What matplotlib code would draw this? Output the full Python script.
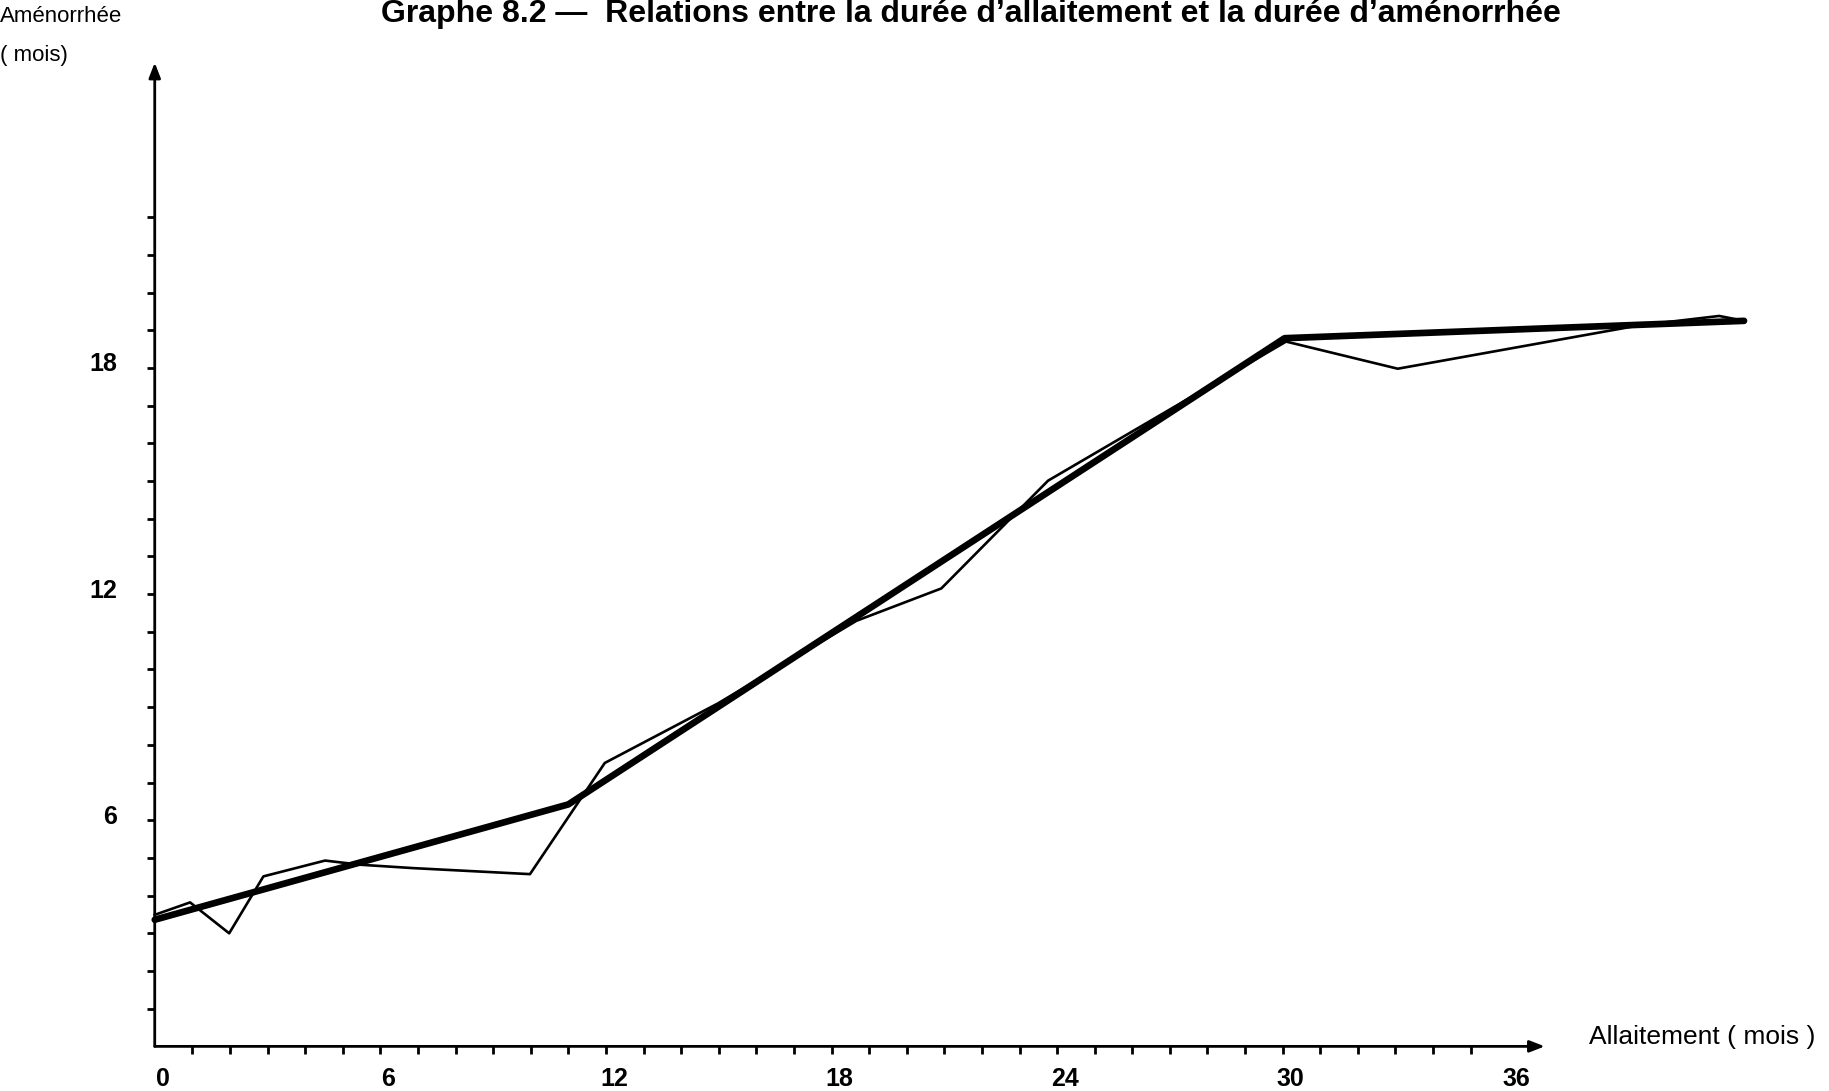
import matplotlib
matplotlib.use("Agg")
import matplotlib.pyplot as plt
import matplotlib.transforms as mtransforms

plt.rcParams['font.family'] = ['Liberation Sans', 'DejaVu Sans']

# courbe observée (trait fin)
allait_obs = [0, 0.94, 1.98, 2.89, 4.53, 5.46, 6.87, 9.98, 11.97, 14.98, 18.66,
              20.92, 23.76, 30.09, 33.06, 39.48, 41.61, 42.27]
amen_obs = [3.49, 3.82, 3.00, 4.51, 4.93, 4.82, 4.73, 4.57, 7.52, 9.10, 11.29,
            12.15, 15.01, 18.70, 17.98, 19.13, 19.38, 19.25]

# ajustement (trait épais)
allait_fit = [0, 11.0, 30.05, 42.27]
amen_fit = [3.36, 6.42, 18.79, 19.25]

xticks_lab = [0, 6, 12, 18, 24, 30, 36]
yticks_lab = [6, 12, 18]

fig = plt.figure(figsize=(18.29, 10.91), dpi=100)
ax = fig.add_axes([0.0846, 0.0409, 0.9154, 0.959])
ax.set_xlim(0, 44.53)
ax.set_ylim(0, 27.76)

for s in ax.spines.values():
    s.set_visible(False)

# axes avec flèches
ax.annotate('', xy=(36.97, 0), xytext=(0, 0), annotation_clip=False,
            arrowprops=dict(arrowstyle='-|>,head_length=0.9,head_width=0.35',
                            lw=2.0, color='black', shrinkA=0, shrinkB=0))
ax.annotate('', xy=(0, 26.1), xytext=(0, 0), annotation_clip=False,
            arrowprops=dict(arrowstyle='-|>,head_length=0.9,head_width=0.35',
                            lw=2.0, color='black', shrinkA=0, shrinkB=0))

# graduations
ax.set_xticks(xticks_lab)
ax.set_xticklabels([str(v) for v in xticks_lab])
ax.set_xticks(range(1, 36), minor=True)
ax.set_yticks(yticks_lab)
ax.set_yticklabels([str(v) for v in yticks_lab])
ax.set_yticks(range(1, 23), minor=True)
ax.tick_params(axis='both', which='both', direction='out', length=6, width=2, color='black')
ax.tick_params(axis='x', which='major', pad=9, labelsize=18)
ax.tick_params(axis='y', which='major', pad=21, labelsize=18)
for t in ax.xaxis.get_major_ticks():
    if t.get_loc() in (0, 36):
        t.tick1line.set_visible(False)
for lab in ax.get_xticklabels() + ax.get_yticklabels():
    lab.set_fontweight('bold')

off_x = mtransforms.ScaledTranslation(0.08, 0, fig.dpi_scale_trans)
for lab in ax.get_xticklabels():
    lab.set_transform(lab.get_transform() + off_x)
off_y = mtransforms.ScaledTranslation(0, 0.06, fig.dpi_scale_trans)
for lab in ax.get_yticklabels():
    lab.set_transform(lab.get_transform() + off_y)

ax.plot(allait_fit, amen_fit, color='black', lw=4.8, solid_joinstyle='round',
        solid_capstyle='round', clip_on=False)
ax.plot(allait_obs, amen_obs, color='black', lw=1.9, clip_on=False)

fig.text(0.531, 0.987, "Graphe 8.2 —  Relations entre la durée d\u2019allaitement et la durée d\u2019aménorrhée",
         ha='center', va='center', fontsize=23, fontweight='bold')
fig.text(0.0, 1 - 16 / 1091, "Aménorrhée", ha='left', va='center', fontsize=16)
fig.text(0.0, 1 - 55 / 1091, "( mois)", ha='left', va='center', fontsize=16)
fig.text(0.8688, 0.0495, "Allaitement ( mois )", ha='left', va='center', fontsize=19)

fig.savefig('out.png', dpi=100)
